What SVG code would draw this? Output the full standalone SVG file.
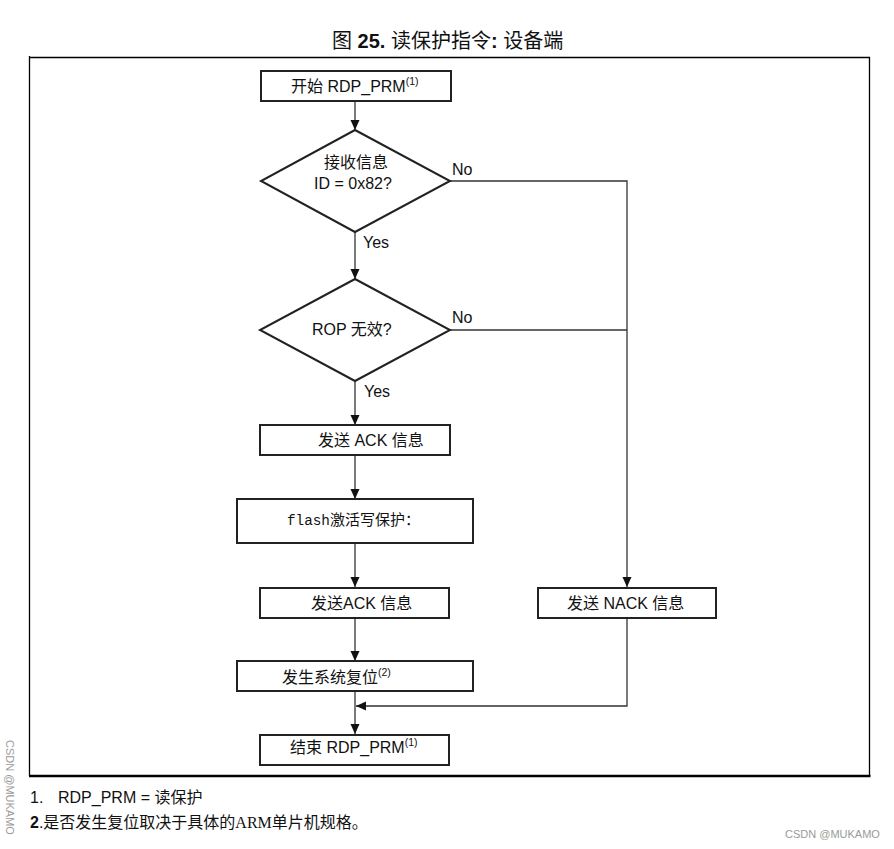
<svg xmlns="http://www.w3.org/2000/svg" width="894" height="849" viewBox="0 0 894 849">
<style>
  text { font-family: "Liberation Sans", "Noto Sans CJK SC", sans-serif; fill: #111; }
  .t { font-size: 16px; }
  .sup { font-size: 10.5px; }
  .box { fill: #fff; stroke: #222; stroke-width: 2; }
  .lbl { font-size: 16px; }
  .conn { fill: none; stroke: #333; stroke-width: 1.3; }
  .frame { stroke: #000; fill: none; }
  .wm { font-size: 11px; fill: #9a9a9a; }
</style>
<defs>
  <marker id="arr" markerUnits="userSpaceOnUse" markerWidth="10" markerHeight="12" viewBox="0 0 10 12" refX="10" refY="6" orient="auto">
    <path d="M0,1.5 L10,6 L0,10.5 Z" fill="#111"/>
  </marker>
</defs>
<rect x="0" y="0" width="894" height="849" fill="#fff"/>

<!-- title -->
<text x="332" y="48" style="font-size:20px">图 <tspan font-weight="bold">25.</tspan> 读保护指令<tspan font-weight="bold">:</tspan> 设备端</text>

<!-- frame -->
<g id="frame">
  <line class="frame" x1="29" y1="57.5" x2="870" y2="57.5" stroke-width="1.3"/>
  <line class="frame" x1="29.5" y1="56" x2="29.5" y2="776" stroke-width="1.3"/>
  <line class="frame" x1="869.5" y1="57" x2="869.5" y2="776" stroke-width="1.3"/>
  <line class="frame" x1="29" y1="776" x2="870.5" y2="776" stroke-width="2.5"/>
</g>

<!-- connectors -->
<g id="connectors">
  <line class="conn" x1="355" y1="101" x2="355" y2="130" marker-end="url(#arr)"/>
  <line class="conn" x1="355" y1="232" x2="355" y2="279" marker-end="url(#arr)"/>
  <line class="conn" x1="355" y1="381" x2="355" y2="425" marker-end="url(#arr)"/>
  <line class="conn" x1="355" y1="455" x2="355" y2="499" marker-end="url(#arr)"/>
  <line class="conn" x1="355" y1="543" x2="355" y2="587" marker-end="url(#arr)"/>
  <line class="conn" x1="355" y1="618" x2="355" y2="661" marker-end="url(#arr)"/>
  <line class="conn" x1="355" y1="692" x2="355" y2="734" marker-end="url(#arr)"/>
  <polyline class="conn" points="450,181 627,181 627,587" marker-end="url(#arr)"/>
  <line class="conn" x1="450" y1="330" x2="627" y2="330"/>
  <polyline class="conn" points="627,618 627,706 356,706" marker-end="url(#arr)"/>
  <text class="lbl" x="452" y="175">No</text>
  <text class="lbl" x="363" y="248">Yes</text>
  <text class="lbl" x="452" y="323">No</text>
  <text class="lbl" x="364" y="397">Yes</text>
</g>

<!-- nodes -->
<g id="start">
  <rect class="box" x="261" y="71" width="190" height="30"/>
  <text class="t" x="291" y="92">开始 RDP_PRM<tspan class="sup" dy="-7">(1)</tspan></text>
</g>
<g id="check-id">
  <polygon class="box" points="355,130 450,181 355,232 261,181"/>
  <text class="t" x="356" y="168" text-anchor="middle">接收信息</text>
  <text class="t" x="353" y="189" text-anchor="middle">ID = 0x82?</text>
</g>
<g id="check-rop">
  <polygon class="box" points="355,279 450,330 355,381 260,330"/>
  <text class="t" x="312" y="335">ROP 无效?</text>
</g>
<g id="ack1">
  <rect class="box" x="260" y="425" width="190" height="30"/>
  <text class="t" x="318" y="446">发送 ACK 信息</text>
</g>
<g id="flash">
  <rect class="box" x="237" y="499" width="236" height="44"/>
  <text x="287" y="525" style="font-size:15px"><tspan style="font-family:'Liberation Mono',monospace;font-size:14.3px">flash</tspan>激活写保护：</text>
</g>
<g id="ack2">
  <rect class="box" x="260" y="588" width="189" height="30"/>
  <text class="t" x="311" y="609">发送ACK 信息</text>
</g>
<g id="nack">
  <rect class="box" x="538" y="588" width="178" height="30"/>
  <text class="t" x="567" y="609">发送 NACK 信息</text>
</g>
<g id="reset">
  <rect class="box" x="237" y="661" width="236" height="30"/>
  <text class="t" x="282" y="683">发生系统复位<tspan class="sup" dy="-7">(2)</tspan></text>
</g>
<g id="end">
  <rect class="box" x="260" y="735" width="189" height="30"/>
  <text class="t" x="290" y="753">结束 RDP_PRM<tspan class="sup" dy="-7">(1)</tspan></text>
</g>

<!-- footnotes -->
<text class="t" x="30" y="803">1.</text>
<text class="t" x="58" y="803">RDP_PRM = 读保护</text>
<text class="t" x="30" y="828"><tspan font-weight="bold">2</tspan>.是否发生复位取决于具体的<tspan style="font-family:'Liberation Serif','Noto Sans CJK SC',serif">ARM</tspan>单片机规格。</text>

<!-- watermarks -->
<text class="wm" transform="translate(6,740) rotate(90)">CSDN @MUKAMO</text>
<text class="wm" x="785" y="838">CSDN @MUKAMO</text>
</svg>
